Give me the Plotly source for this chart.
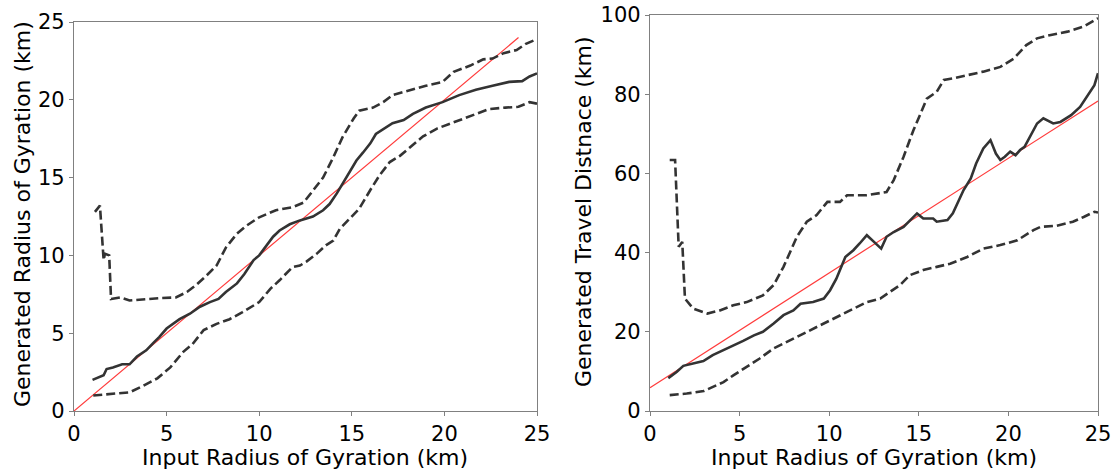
import plotly.graph_objects as go

# ---- Left panel: radius of gyration ----
l_med_x = [1.0, 1.6, 1.76, 2.1, 2.6, 3.0, 3.4, 3.9, 4.3, 4.6, 5.0, 5.45, 5.7, 6.26, 6.8, 7.34, 7.8, 8.2, 8.8, 9.2, 9.7, 10.0, 10.4, 10.75, 11.1, 11.65, 12.2, 12.9, 13.45, 13.8, 14.2, 14.5, 14.9, 15.25, 15.6, 16.0, 16.3, 16.9, 17.2, 17.8, 18.3, 19.0, 19.9, 20.8, 21.7, 22.6, 23.5, 24.2, 24.6, 25.0]
l_med_y = [2.0, 2.3, 2.7, 2.8, 3.0, 3.0, 3.5, 3.9, 4.4, 4.75, 5.3, 5.7, 5.9, 6.25, 6.7, 7.0, 7.2, 7.65, 8.2, 8.8, 9.7, 10.0, 10.6, 11.2, 11.6, 12.0, 12.25, 12.5, 12.9, 13.3, 14.0, 14.6, 15.35, 16.1, 16.6, 17.2, 17.8, 18.25, 18.5, 18.7, 19.1, 19.5, 19.85, 20.3, 20.65, 20.9, 21.15, 21.2, 21.5, 21.7]

l_up_x = [1.13, 1.4, 1.6, 1.67, 1.9, 2.0, 2.5, 3.0, 4.6, 5.5, 6.1, 6.6, 7.15, 7.7, 8.2, 8.8, 9.3, 10.0, 10.9, 11.8, 12.4, 12.9, 13.45, 14.0, 14.5, 15.1, 15.4, 16.15, 16.7, 17.2, 18.1, 19.0, 19.9, 20.5, 21.4, 22.1, 22.6, 23.2, 23.9, 24.4, 25.0]
l_up_y = [12.8, 13.2, 9.7, 10.1, 10.0, 7.2, 7.3, 7.1, 7.25, 7.3, 7.65, 8.1, 8.7, 9.35, 10.5, 11.4, 11.9, 12.45, 12.9, 13.1, 13.4, 14.2, 15.0, 16.3, 17.6, 18.8, 19.3, 19.5, 19.85, 20.3, 20.6, 20.9, 21.15, 21.8, 22.2, 22.6, 22.65, 23.0, 23.2, 23.6, 23.9]

l_lo_x = [1.04, 1.9, 3.0, 3.7, 4.5, 5.2, 5.9, 6.4, 7.0, 7.7, 8.4, 9.1, 10.0, 10.6, 11.1, 11.8, 12.2, 12.55, 13.1, 13.6, 14.0, 14.35, 14.9, 15.4, 16.0, 16.5, 17.05, 17.6, 18.1, 18.85, 19.6, 20.3, 20.8, 21.7, 22.4, 23.3, 24.0, 24.6, 25.0]
l_lo_y = [1.0, 1.07, 1.2, 1.6, 2.1, 2.8, 3.8, 4.3, 5.2, 5.6, 5.9, 6.35, 7.0, 7.85, 8.4, 9.25, 9.35, 9.6, 10.1, 10.65, 10.95, 11.7, 12.35, 13.0, 14.2, 15.15, 16.0, 16.4, 16.9, 17.65, 18.15, 18.45, 18.7, 19.1, 19.4, 19.5, 19.55, 19.85, 19.75]

l_ref_x = [0, 24]
l_ref_y = [0, 24]

# ---- Right panel: travel distance ----
r_med_x = [1.02, 1.5, 1.86, 2.4, 2.98, 3.5, 4.1, 4.65, 5.2, 5.8, 6.3, 6.9, 7.45, 8.0, 8.4, 9.1, 9.7, 10.05, 10.4, 10.9, 11.35, 11.7, 12.1, 12.5, 12.9, 13.2, 13.6, 14.15, 14.5, 14.9, 15.25, 15.8, 16.0, 16.6, 16.9, 17.2, 17.5, 17.9, 18.2, 18.6, 19.0, 19.3, 19.55, 19.8, 20.1, 20.4, 20.65, 20.9, 21.2, 21.6, 21.95, 22.5, 22.9, 23.2, 23.5, 24.0, 24.4, 24.8, 25.0]
r_med_y = [8.3, 9.9, 11.4, 12.0, 12.6, 14.1, 15.3, 16.6, 17.7, 19.1, 20.0, 22.1, 24.2, 25.4, 27.1, 27.5, 28.4, 30.5, 33.4, 38.9, 40.6, 42.3, 44.4, 42.7, 41.0, 44.0, 45.2, 46.5, 48.2, 49.9, 48.6, 48.6, 47.8, 48.2, 49.9, 52.8, 55.8, 58.7, 62.5, 66.3, 68.4, 65.0, 63.4, 64.2, 65.5, 64.6, 65.9, 66.7, 69.2, 72.6, 73.9, 72.6, 73.0, 73.9, 74.7, 76.8, 79.4, 82.3, 85.3]

r_up_x = [1.1, 1.4, 1.6, 1.8, 1.95, 2.4, 3.2, 3.9, 4.65, 5.4, 6.3, 6.9, 7.45, 8.2, 8.75, 9.3, 9.9, 10.6, 11.0, 12.1, 13.2, 13.6, 14.15, 14.7, 15.1, 15.45, 16.0, 16.4, 16.9, 17.7, 18.6, 19.55, 20.3, 21.0, 21.6, 22.3, 23.3, 24.2, 24.8, 25.0]
r_up_y = [63.4, 63.4, 41.5, 42.7, 28.4, 25.9, 24.6, 25.4, 26.7, 27.5, 29.2, 31.8, 36.4, 44.0, 47.8, 49.5, 52.8, 52.8, 54.5, 54.5, 55.3, 58.3, 64.2, 70.9, 75.1, 78.9, 80.6, 83.6, 84.0, 84.8, 85.7, 86.9, 89.0, 92.4, 94.1, 94.9, 95.8, 97.1, 98.7, 99.2]

r_lo_x = [1.1, 2.05, 3.0, 3.5, 4.1, 4.65, 5.4, 6.1, 6.9, 7.6, 8.4, 9.1, 9.9, 10.6, 11.35, 12.1, 12.85, 13.4, 13.95, 14.5, 15.25, 16.0, 16.75, 17.7, 18.6, 19.55, 20.5, 21.4, 21.8, 22.7, 23.6, 24.2, 24.8, 25.0]
r_lo_y = [4.0, 4.4, 5.05, 6.1, 7.3, 9.0, 11.1, 13.2, 15.8, 17.4, 19.1, 20.8, 22.5, 24.2, 25.9, 27.5, 28.4, 30.1, 31.8, 34.3, 35.6, 36.4, 37.2, 38.9, 41.0, 41.9, 43.1, 45.7, 46.5, 46.8, 47.8, 49.0, 50.3, 50.1]

r_ref_x = [0, 25]
r_ref_y = [5.9, 78.3]

x_ticks = [0, 5, 10, 15, 20, 25]
l_y_ticks = [0, 5, 10, 15, 20, 25]
r_y_ticks = [0, 20, 40, 60, 80, 100]

W, H = 1115, 472
DARK = "#333333"
RED = "#ff3b3b"
FONT = "DejaVu Sans"

fig = go.Figure()

def add_panel(xa, ya, refx, refy, medx, medy, upx, upy, lox, loy):
    fig.add_trace(go.Scatter(x=refx, y=refy, mode="lines", xaxis=xa, yaxis=ya,
                             line=dict(color=RED, width=1.2), showlegend=False))
    fig.add_trace(go.Scatter(x=upx, y=upy, mode="lines", xaxis=xa, yaxis=ya,
                             line=dict(color=DARK, width=2.6, dash="9px,4px"), showlegend=False))
    fig.add_trace(go.Scatter(x=lox, y=loy, mode="lines", xaxis=xa, yaxis=ya,
                             line=dict(color=DARK, width=2.6, dash="9px,4px"), showlegend=False))
    fig.add_trace(go.Scatter(x=medx, y=medy, mode="lines", xaxis=xa, yaxis=ya,
                             line=dict(color=DARK, width=2.6), showlegend=False))

add_panel("x", "y", l_ref_x, l_ref_y, l_med_x, l_med_y, l_up_x, l_up_y, l_lo_x, l_lo_y)
add_panel("x2", "y2", r_ref_x, r_ref_y, r_med_x, r_med_y, r_up_x, r_up_y, r_lo_x, r_lo_y)

axis_common = dict(showgrid=False, zeroline=False, showline=True, linecolor="#808080",
                   linewidth=1.2, mirror=True, ticks="outside", ticklen=4, tickwidth=1.2,
                   tickcolor="#808080", automargin=False,
                   tickfont=dict(family=FONT, size=21, color="black"))

fig.update_layout(
    width=W, height=H,
    margin=dict(l=0, r=0, t=0, b=0, pad=0, autoexpand=False),
    paper_bgcolor="white", plot_bgcolor="white",
    xaxis=dict(domain=[74 / W, 537 / W], range=[0, 25], tickvals=x_ticks, anchor="y", **axis_common),
    yaxis=dict(domain=[(H - 411) / H, (H - 22) / H], range=[0, 25], tickvals=l_y_ticks, anchor="x", **axis_common),
    xaxis2=dict(domain=[650 / W, 1098 / W], range=[0, 25], tickvals=x_ticks, anchor="y2", **axis_common),
    yaxis2=dict(domain=[(H - 411) / H, (H - 15) / H], range=[0, 100], tickvals=r_y_ticks, anchor="x2", **axis_common),
)

title_font = dict(family=FONT, size=22, color="black")
fig.add_annotation(text="Input Radius of Gyration (km)", xref="paper", yref="paper",
                   x=305 / W, y=(H - 457) / H, showarrow=False, font=title_font,
                   xanchor="center", yanchor="middle")
fig.add_annotation(text="Input Radius of Gyration (km)", xref="paper", yref="paper",
                   x=874 / W, y=(H - 457) / H, showarrow=False, font=title_font,
                   xanchor="center", yanchor="middle")
fig.add_annotation(text="Generated Radius of Gyration (km)", xref="paper", yref="paper",
                   x=22 / W, y=(H - 214) / H, showarrow=False, font=title_font, textangle=-90,
                   xanchor="center", yanchor="middle")
fig.add_annotation(text="Generated Travel Distnace (km)", xref="paper", yref="paper",
                   x=583 / W, y=(H - 212) / H, showarrow=False, font=title_font, textangle=-90,
                   xanchor="center", yanchor="middle")

fig.write_html("out.html")
